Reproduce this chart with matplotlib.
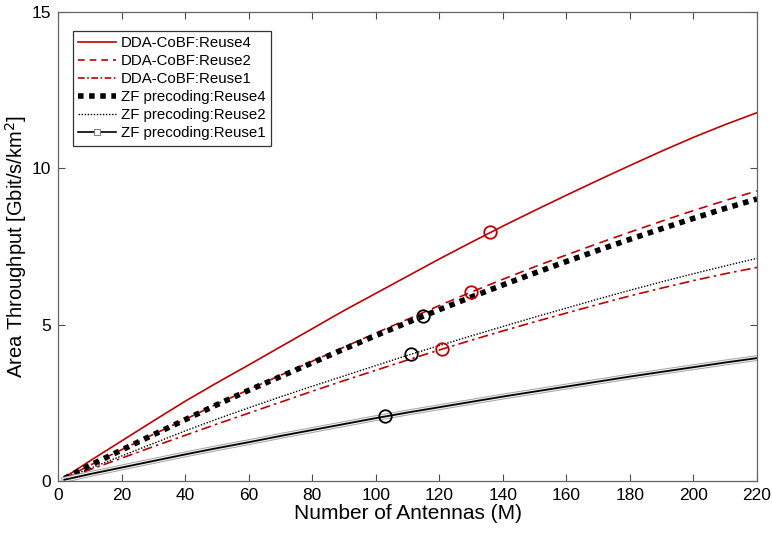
import matplotlib
matplotlib.use("Agg")
import matplotlib.pyplot as plt
import matplotlib.patheffects as pe
from matplotlib.lines import Line2D

plt.rcParams['font.family'] = ['Liberation Sans', 'DejaVu Sans']

M = [2, 10, 20, 30, 40, 50, 60, 70, 80, 90, 100, 110, 120, 130, 140, 150, 160, 170, 180, 190, 200, 210, 220]
dda_reuse4 = [0.11, 0.64, 1.28, 1.92, 2.55, 3.14, 3.71, 4.29, 4.87, 5.45, 6.00, 6.55, 7.10, 7.63, 8.15, 8.65, 9.14, 9.62, 10.09, 10.55, 10.99, 11.40, 11.78]
dda_reuse2 = [0.08, 0.50, 1.00, 1.49, 1.97, 2.46, 2.92, 3.38, 3.83, 4.28, 4.73, 5.17, 5.61, 6.04, 6.45, 6.85, 7.23, 7.60, 7.96, 8.31, 8.65, 8.97, 9.28]
dda_reuse1 = [0.06, 0.36, 0.73, 1.10, 1.46, 1.82, 2.17, 2.52, 2.87, 3.21, 3.54, 3.87, 4.19, 4.50, 4.80, 5.09, 5.37, 5.65, 5.92, 6.17, 6.41, 6.63, 6.83]
zf_reuse4 = [0.08, 0.50, 0.99, 1.48, 1.96, 2.44, 2.90, 3.34, 3.78, 4.22, 4.65, 5.07, 5.48, 5.88, 6.27, 6.65, 7.02, 7.38, 7.73, 8.07, 8.40, 8.72, 9.02]
zf_reuse2 = [0.07, 0.40, 0.80, 1.20, 1.60, 1.98, 2.34, 2.69, 3.03, 3.36, 3.69, 4.02, 4.33, 4.64, 4.94, 5.24, 5.53, 5.82, 6.10, 6.37, 6.63, 6.88, 7.12]
zf_reuse1 = [0.04, 0.22, 0.43, 0.64, 0.85, 1.05, 1.24, 1.44, 1.63, 1.82, 2.01, 2.19, 2.36, 2.53, 2.70, 2.86, 3.02, 3.18, 3.34, 3.49, 3.64, 3.79, 3.93]

red_circ_x = [136, 130, 121]
red_circ_y = [7.96, 6.04, 4.22]
blk_circ_x = [115, 111, 103]
blk_circ_y = [5.28, 4.06, 2.08]

labels = ['DDA-CoBF:Reuse4', 'DDA-CoBF:Reuse2', 'DDA-CoBF:Reuse1',
          'ZF precoding:Reuse4', 'ZF precoding:Reuse2', 'ZF precoding:Reuse1']

red = '#C00000'

fig = plt.figure(figsize=(7.72, 5.36), dpi=100)
ax = fig.add_axes([58/772, 1-481/536, (757-58)/772, (481-12)/536])

ax.plot(M, dda_reuse4, color=red, lw=1.2, ls='-')
ax.plot(M, dda_reuse2, color=red, lw=1.2, ls=(0, (5.5, 3.5)))
ax.plot(M, dda_reuse1, color=red, lw=1.2, ls=(0, (6, 2.5, 1.5, 2.5)))
ax.plot(M, zf_reuse4, color='black', lw=4.0, ls=(0, (1.0, 1.0)), dash_capstyle='butt')
ax.plot(M, zf_reuse2, color='black', lw=1.0, ls=(0, (1, 1.2)))
ax.plot(M, zf_reuse1, color='black', lw=1.3, ls='-',
        path_effects=[pe.Stroke(linewidth=4.2, foreground='0.62'),
                      pe.Stroke(linewidth=3.0, foreground='0.92'),
                      pe.Normal()])

ax.plot(red_circ_x, red_circ_y, ls='none', marker='o', ms=9, mfc='none', mec=red, mew=1.3)
ax.plot(blk_circ_x, blk_circ_y, ls='none', marker='o', ms=9, mfc='none', mec='black', mew=1.3)

ax.set_xlim(0, 220)
ax.set_ylim(0, 15)
ax.set_xticks(range(0, 221, 20))
ax.set_yticks([0, 5, 10, 15])
ax.tick_params(direction='in', length=5, width=0.8, color='0.3',
               top=True, right=True, labelsize=12.5, pad=5)
for s in ax.spines.values():
    s.set_color('0.4')
    s.set_linewidth(0.9)

ax.set_xlabel('Number of Antennas (M)', fontsize=15, labelpad=1)
ax.set_ylabel('Area Throughput [Gbit/s/km$^2$]', fontsize=14.5)
ax.yaxis.set_label_coords((29 - 58) / 699, 0.5)

handles = [
    Line2D([], [], color=red, lw=1.2, ls='-'),
    Line2D([], [], color=red, lw=1.2, ls=(0, (4, 3))),
    Line2D([], [], color=red, lw=1.2, ls=(0, (4, 1.5, 1, 1.5))),
    Line2D([], [], color='black', lw=4.0, ls=(0, (1.0, 1.0)), dash_capstyle='butt'),
    Line2D([], [], color='black', lw=1.0, ls=(0, (1, 1.2))),
    Line2D([], [], color='black', lw=1.2, ls='-', marker='s', ms=4, mfc='white', mec='0.5', mew=0.8),
]
leg = ax.legend(handles, labels, loc='upper left',
                bbox_to_anchor=((73-58)/699, (481-31)/469), borderaxespad=0,
                fontsize=10.8, frameon=True, fancybox=False, edgecolor='black',
                handlelength=2.5, handletextpad=0.35, labelspacing=0.27,
                borderpad=0.35, markerscale=1.0, numpoints=1)
leg.get_frame().set_linewidth(0.9)

fig.savefig('out.png', dpi=100)
